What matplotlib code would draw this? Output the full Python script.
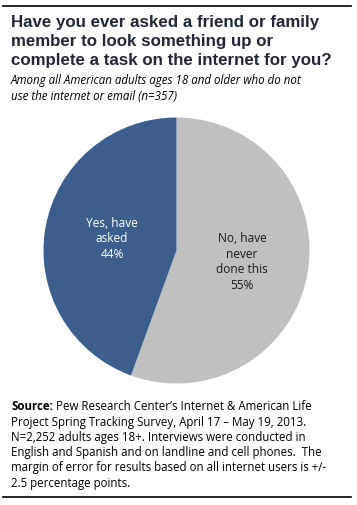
import matplotlib
matplotlib.use("Agg")
import matplotlib.pyplot as plt

# Data
labels = ["No, have\nnever\ndone this", "Yes, have\nasked"]
values = [55, 44]
colors = ["#C0C0C0", "#3B5E8D"]
text_colors = ["#1a1a1a", "white"]

title = "Have you ever asked a friend or family\nmember to look something up or\ncomplete a task on the internet for you?"
subtitle = "Among all American adults ages 18 and older who do not\nuse the internet or email (n=357)"
source_head = "Source:"
source_first = " Pew Research Center\u2019s Internet & American Life"
source_lines = [
    "Project Spring Tracking Survey, April 17 \u2013 May 19, 2013.",
    "N=2,252 adults ages 18+. Interviews were conducted in",
    "English and Spanish and on landline and cell phones.  The",
    "margin of error for results based on all internet users is +/-",
    "2.5 percentage points.",
]

W, H = 357, 505
fig = plt.figure(figsize=(W / 100, H / 100), dpi=100)
fig.patch.set_facecolor("white")

# Pie axes: center ~ (176.5, 250.5), radius ~133 px
cx, cy, r = 176.5, 250.5, 133
ax = fig.add_axes([(cx - r) / W, 1 - (cy + r) / H, 2 * r / W, 2 * r / H])
ax.pie(values, colors=colors, startangle=90, counterclock=False,
       wedgeprops=dict(linewidth=0))
ax.set_xlim(-1, 1)
ax.set_ylim(-1, 1)
ax.set_aspect("auto")

# Slice labels
label_pos = [(242, 262), (112, 239)]
for lab, v, tc, (px, py) in zip(labels, values, text_colors, label_pos):
    fig.text(px / W, 1 - py / H, f"{lab}\n{v}%", ha="center", va="center",
             fontsize=8.6, color=tc, family="Open Sans", linespacing=1.25)

# Rules
fig.add_artist(plt.Line2D([3 / W, 351 / W], [1 - 6 / H, 1 - 6 / H],
                          color="black", lw=1.2))
fig.add_artist(plt.Line2D([3 / W, 351 / W], [1 - 497 / H, 1 - 497 / H],
                          color="black", lw=1.2))

# Title and subtitle
fig.text(11 / W, 1 - 15 / H, title, ha="left", va="top", fontsize=12.2,
         fontweight="bold", color="#1F2937", family="Liberation Sans",
         linespacing=1.32)
fig.text(11 / W, 1 - 74 / H, subtitle, ha="left", va="top", fontsize=8.3,
         style="italic", color="black", family="Open Sans", linespacing=1.32)

# Source note
y0 = 407
dy = 15.2
head = fig.text(11 / W, 1 - y0 / H, source_head, ha="left", va="center",
                fontsize=8.3, fontweight="bold", family="Open Sans")
renderer = fig.canvas.get_renderer()
bb = head.get_window_extent(renderer=renderer)
fig.text(bb.x1 / W, 1 - y0 / H, source_first, ha="left", va="center",
         fontsize=8.3, family="Open Sans")
for i, line in enumerate(source_lines):
    fig.text(11 / W, 1 - (y0 + dy * (i + 1)) / H, line, ha="left", va="center",
             fontsize=8.3, family="Open Sans")

fig.savefig("out.png", dpi=100, facecolor="white")
